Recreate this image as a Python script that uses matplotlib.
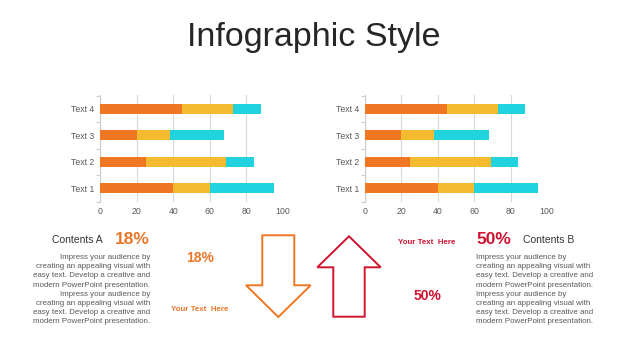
import matplotlib
matplotlib.use("Agg")
import matplotlib.pyplot as plt
from matplotlib.patches import Polygon
import numpy as np

plt.rcParams["font.family"] = ["Liberation Sans", "DejaVu Sans"]

# =========================
# Data
# =========================
categories = ["Text 1", "Text 2", "Text 3", "Text 4"]
series_a = [40, 25, 20, 45]
series_b = [20, 44, 18, 28]
series_c = [35, 15, 30, 15]
x_ticks = [0, 20, 40, 60, 80, 100]

pct_a = "18%"
pct_b = "50%"
body = ("Impress your audience by\ncreating an appealing visual with\n"
        "easy text. Develop a creative and\nmodern PowerPoint presentation.\n"
        "Impress your audience by\ncreating an appealing visual with\n"
        "easy text. Develop a creative and\nmodern PowerPoint presentation.")

ORANGE = "#EF7623"
YELLOW = "#F4BA30"
CYAN = "#21D3DE"
RED = "#D0132F"
GRAY = "#595959"
TORANGE = "#E8772A"

W, H = 626, 352
fig = plt.figure(figsize=(W / 100, H / 100), dpi=100)


def bar_chart(left_px):
    ax = fig.add_axes([left_px / W, 150.3 / H, 182.4 / W, 106.7 / H])
    y = np.arange(len(categories))
    a = np.array(series_a)
    b = np.array(series_b)
    c = np.array(series_c)
    ax.barh(y, a, height=0.375, color=ORANGE, zorder=3)
    ax.barh(y, b, left=a, height=0.375, color=YELLOW, zorder=3)
    ax.barh(y, c, left=a + b, height=0.375, color=CYAN, zorder=3)
    ax.set_xlim(0, 100)
    ax.set_ylim(-0.48, 3.52)
    ax.set_xticks(x_ticks)
    ax.set_yticks(y)
    ax.set_yticklabels(categories)
    ax.set_yticks([-0.5, 0.5, 1.5, 2.5, 3.5], minor=True)
    ax.tick_params(axis="both", labelsize=6.3, labelcolor=GRAY, length=0, pad=4)
    ax.tick_params(axis="y", which="minor", length=3, color="#CCCCCC", width=0.8)
    ax.grid(axis="x", color="#D9D9D9", linewidth=0.8, zorder=0)
    for s in ["top", "right", "bottom"]:
        ax.spines[s].set_visible(False)
    ax.spines["left"].set_color("#CCCCCC")
    ax.spines["left"].set_linewidth(0.8)
    return ax


bar_chart(100.3)
bar_chart(364.7)

# overlay in pixel coordinates for text and arrows
ov = fig.add_axes([0, 0, 1, 1])
ov.set_xlim(0, W)
ov.set_ylim(H, 0)
ov.axis("off")

ov.text(314, 46, "Infographic Style", fontsize=24.5, color="#262626",
        ha="center", va="baseline")

# arrows
down = [(262.3, 235.3), (294.3, 235.3), (294.3, 285.3), (310.7, 285.3),
        (278.3, 317), (246, 285.3), (262.3, 285.3)]
up = [(349, 236.3), (380.7, 267.3), (364.7, 267.3), (364.7, 316.7),
      (333.3, 316.7), (333.3, 267.3), (317.3, 267.3)]
ov.add_patch(Polygon(down, closed=True, fill=False, edgecolor=ORANGE, linewidth=1.4))
ov.add_patch(Polygon(up, closed=True, fill=False, edgecolor=RED, linewidth=1.4))

# left block
ov.text(103, 240, "Contents A", fontsize=7.5, color="#333333", ha="right", va="center")
ov.text(115, 240, pct_a, fontsize=12.5, color=TORANGE, fontweight="bold",
        ha="left", va="center")
ov.text(150, 254, body, fontsize=5.7, color=GRAY, ha="right", va="top",
        multialignment="right", linespacing=1.44)
ov.text(200, 257.5, pct_a, fontsize=10, color=TORANGE, fontweight="bold",
        ha="center", va="center")
ov.text(200, 309.3, "Your Text  Here", fontsize=5.7, color=TORANGE,
        fontweight="bold", ha="center", va="center")

# right block
ov.text(427, 242.3, "Your Text  Here", fontsize=5.7, color=RED,
        fontweight="bold", ha="center", va="center")
ov.text(476, 240, pct_b, fontsize=12.5, color=RED, fontweight="bold",
        ha="left", va="center")
ov.text(522.7, 240, "Contents B", fontsize=7.5, color="#333333", ha="left", va="center")
ov.text(475.7, 254, body, fontsize=5.7, color=GRAY, ha="left", va="top",
        multialignment="left", linespacing=1.44)
ov.text(428, 295.7, pct_b, fontsize=10, color=RED, fontweight="bold",
        ha="center", va="center")

fig.savefig("out.png", dpi=100)
